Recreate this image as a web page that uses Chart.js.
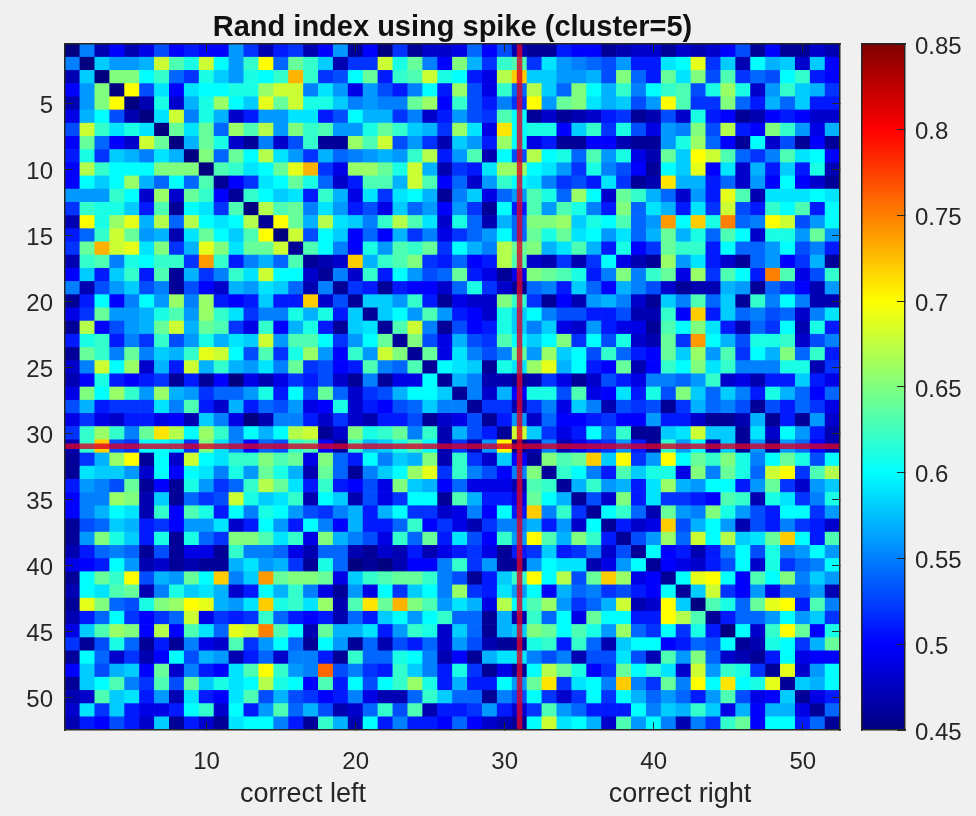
<!DOCTYPE html>
<html>
<head>
<meta charset="utf-8">
<title>Rand index using spike</title>
<script src="https://cdn.jsdelivr.net/npm/chart.js@4"></script>
<style>
	html, body { margin: 0; padding: 0; background: #f0f0f0; }
	#wrap { position: relative; width: 976px; height: 816px; overflow: hidden; font-family: "Liberation Sans", Arial, sans-serif; }
	#heat { position: absolute; left: 0; top: 0; }
	#cbar { position: absolute; left: 850px; top: 0; }
	.lab { position: absolute; top: 778px; font-size: 27px; line-height: 30px; color: #262626; white-space: nowrap; transform: translateX(-50%); }
</style>
</head>
<body>
<div id="wrap">
	<canvas id="heat" width="860" height="816"></canvas>
	<canvas id="cbar" width="126" height="816"></canvas>
	<div class="lab" style="left:303px">correct left</div>
	<div class="lab" style="left:680px">correct right</div>
</div>
<script>
// values, in hundredths, one array per row
var cells = [
[45,55,47,50,47,49,53,50,51,50,50,56,52,47,51,52,47,50, 56,46,50,45,52,46,48,48,49,54,50,53,47,46,46,51,50, 50,46,47,48,48,46,48,47,48,50,53,46,50,46,46,48,47],
[55,45,58,56,56,57,68,63,61,68,60,56,62,70,54,64,62,58, 47,52,52,68,61,64,55,50,65,57,52,62,63,52,59,56,55, 54,53,56,51,51,59,60,69,52,58,47,60,57,58,48,58,50],
[47,58,45,65,65,60,62,54,52,61,58,56,61,60,62,73,62,52, 53,60,64,51,62,63,68,61,60,51,49,67,72,58,58,56,56, 57,53,65,54,51,64,59,65,53,63,52,54,53,60,62,51,50],
[50,56,65,45,70,53,59,50,59,60,60,61,61,66,68,68,55,59, 56,49,56,53,51,55,60,51,66,53,49,62,54,67,58,54,65, 60,57,62,55,60,62,63,53,61,66,61,48,56,62,58,57,52],
[47,56,65,70,45,47,61,48,57,61,66,60,58,69,64,68,61,61, 58,55,56,55,55,64,66,50,62,53,51,55,52,70,56,64,65, 59,57,58,53,56,70,63,52,52,65,54,51,57,54,58,51,51],
[49,57,60,53,47,45,59,68,55,61,57,48,51,56,56,59,59,51, 53,60,57,57,52,55,48,51,56,53,52,63,60,46,48,46,47, 48,51,52,46,47,53,48,61,51,50,46,47,50,51,50,48,48],
[53,68,62,59,61,59,45,64,59,64,54,66,63,67,56,65,62,63, 56,56,61,64,62,58,57,52,66,59,49,71,60,61,61,50,58, 62,52,61,53,49,56,55,65,53,67,51,50,65,62,56,49,57],
[50,64,54,50,48,68,64,45,57,64,61,48,46,55,48,53,62,46, 46,66,63,68,53,56,52,47,58,56,51,66,60,49,51,46,46, 50,50,47,46,46,56,61,66,54,50,46,60,48,53,46,50,46],
[51,61,52,58,57,55,59,57,45,65,54,64,60,67,59,56,52,57, 54,55,56,57,56,62,67,51,56,63,47,60,53,67,60,61,54, 63,56,61,49,47,64,58,70,68,63,54,52,55,63,59,60,50],
[50,67,62,60,60,60,65,65,65,45,63,62,59,60,64,69,73,52, 49,66,66,64,61,68,57,47,52,51,59,66,66,60,59,56,52, 61,55,53,50,46,60,58,69,50,59,48,57,51,58,51,61,47],
[50,60,58,60,66,57,54,60,54,63,46,50,52,59,60,64,61,54, 48,51,63,63,57,68,63,50,54,48,56,62,60,59,55,52,53, 51,59,52,46,47,71,57,57,51,54,48,56,50,60,50,48,46],
[56,56,56,62,60,48,66,48,64,62,50,46,62,60,58,59,51,62, 57,49,59,52,59,60,57,46,55,58,49,54,56,63,61,54,66, 60,48,64,62,57,54,48,56,51,69,63,47,59,59,59,60,59],
[52,62,61,61,58,51,63,46,60,59,52,63,45,67,63,64,55,59, 56,51,53,49,58,54,56,50,56,52,46,60,51,63,56,63,61, 55,51,65,54,59,57,51,59,52,68,53,51,62,60,63,51,60],
[47,70,61,66,69,57,67,54,67,60,59,60,67,46,70,64,57,67, 59,58,55,62,67,63,59,48,61,54,47,57,54,65,65,66,58, 61,60,63,54,56,74,60,72,61,75,54,55,70,68,53,56,60],
[51,54,62,68,64,56,57,47,59,64,60,58,63,70,45,68,53,60, 58,50,54,50,57,52,55,49,52,54,56,60,54,64,61,64,59, 60,56,59,54,57,64,57,61,54,63,60,48,61,61,56,64,56],
[52,64,73,68,69,59,65,52,57,69,65,59,64,64,68,46,63,60, 55,50,61,56,63,62,64,52,60,57,55,67,64,65,57,59,63, 57,51,61,50,52,64,62,62,51,60,54,54,56,60,53,55,51],
[47,62,63,55,61,60,62,62,52,74,62,51,55,57,54,63,46,47, 48,72,57,62,63,65,52,51,54,50,51,67,63,48,47,52,47, 52,60,49,47,46,66,56,59,51,48,46,54,56,50,52,57,46],
[50,58,51,58,62,51,63,46,57,52,55,62,59,68,60,60,48,46, 55,48,62,51,60,56,53,54,64,51,49,46,49,65,64,63,61, 51,55,65,55,62,64,49,66,52,63,60,51,75,63,49,53,62],
[55,47,53,56,58,53,55,46,53,50,48,57,56,59,58,54,47,55, 46,52,51,46,51,50,50,48,54,61,52,48,46,54,55,51,58, 54,50,57,55,53,48,46,47,47,57,56,46,54,52,50,47,56],
[46,51,60,50,55,60,56,66,55,66,51,50,51,58,51,51,72,48, 53,46,58,58,56,62,51,46,49,48,48,65,62,52,46,50,47, 56,57,55,48,46,58,55,63,54,58,46,62,55,60,55,47,47],
[49,52,64,56,56,57,61,63,56,66,62,59,52,55,55,61,57,61, 51,58,46,58,60,56,63,56,51,50,48,61,58,60,55,53,53, 51,51,53,47,47,62,50,72,51,58,54,55,53,54,48,55,59],
[46,67,50,53,56,57,64,68,57,64,63,52,49,62,50,57,61,51, 46,58,59,46,63,68,55,46,53,50,51,61,58,55,58,49,48, 56,51,49,49,46,63,60,65,59,51,47,54,52,60,47,61,51],
[51,61,62,51,55,52,62,53,56,61,57,59,58,68,56,63,63,60, 52,56,60,64,46,65,53,49,57,53,52,63,60,58,60,65,52, 60,53,61,48,47,64,52,74,60,57,53,61,61,62,48,53,55],
[46,64,62,55,64,55,58,57,62,69,68,60,53,63,52,61,66,56, 50,62,56,68,65,46,64,49,59,55,53,55,64,56,66,58,60, 53,62,54,51,50,64,58,66,56,63,52,60,57,65,54,62,51],
[48,55,68,60,66,48,57,51,68,57,62,57,56,59,55,64,52,53, 50,51,63,55,54,63,46,60,59,58,46,61,59,66,69,57,60, 51,50,64,47,50,62,60,65,59,62,55,55,55,61,61,47,52],
[47,50,61,51,50,51,52,46,51,46,50,45,49,47,49,52,51,53, 48,46,55,46,49,49,60,46,57,55,47,47,46,47,52,49,46, 48,53,51,49,55,55,54,56,62,48,49,47,51,51,58,51,49],
[49,65,60,66,62,56,66,57,56,52,54,54,56,61,51,60,53,64, 54,48,52,53,57,60,60,58,46,55,48,57,50,61,61,53,63, 49,50,59,51,61,53,65,58,54,58,55,51,61,57,54,50,54],
[53,57,51,52,52,52,59,55,63,51,48,57,51,54,53,56,49,50, 61,48,51,50,53,54,58,55,55,46,52,52,47,52,55,49,58, 55,47,53,52,53,46,52,57,54,55,53,46,53,51,54,52,49],
[49,52,49,48,51,51,49,50,47,58,55,49,45,47,55,55,51,48, 52,48,47,51,51,53,46,48,49,53,46,51,56,48,54,50,50, 51,52,50,50,56,51,51,48,46,46,47,57,46,51,46,56,48],
[52,62,66,62,55,64,71,67,60,66,62,55,60,57,60,67,68,46, 48,65,61,62,64,55,62,47,57,53,51,46,68,58,52,49,51, 60,54,62,46,46,58,59,68,58,58,46,59,48,60,56,51,47],
[47,62,72,53,52,60,60,59,52,65,59,55,50,54,53,62,63,50, 46,62,57,58,61,63,60,47,52,47,56,70,45,47,55,47,49, 51,52,56,51,46,62,56,60,47,58,46,56,46,56,54,50,47],
[46,52,57,66,70,46,60,48,68,60,59,62,62,65,63,64,49,65, 54,51,60,55,58,57,65,47,62,52,48,58,50,46,65,63,64, 72,58,70,52,56,70,60,64,62,65,61,55,60,64,61,53,60],
[46,59,58,58,56,48,60,50,60,59,55,61,56,64,61,57,47,64, 54,46,55,58,60,66,69,52,62,55,53,50,55,65,46,62,60, 55,51,63,58,61,61,49,65,55,64,61,54,68,70,52,63,67],
[51,56,55,53,64,46,50,46,61,56,52,54,62,67,64,59,51,62, 51,50,53,49,65,58,57,50,54,49,49,49,47,63,62,46,57, 62,56,57,51,59,66,57,56,60,60,51,56,64,52,48,56,58],
[50,55,55,66,65,47,58,46,54,52,53,68,61,58,59,62,47,60, 58,47,53,49,52,60,60,46,63,57,51,51,49,64,60,57,46, 53,48,65,51,59,52,52,51,50,63,62,47,61,59,52,55,61],
[50,55,57,60,59,47,62,50,63,61,51,60,55,61,60,56,53,52, 55,57,51,57,60,52,52,48,49,55,50,60,51,72,55,62,52, 46,60,62,54,47,64,56,55,65,61,56,53,51,60,60,52,56],
[46,53,54,58,57,51,52,50,56,56,59,48,51,60,56,51,60,55, 50,57,51,51,54,62,50,52,49,47,52,55,55,57,51,56,48, 60,46,51,48,49,72,53,57,60,56,47,53,51,55,52,51,48],
[46,56,65,61,58,51,61,46,61,54,52,65,65,63,59,62,49,65, 57,55,53,49,62,54,64,51,59,53,50,62,56,70,63,57,65, 62,51,46,53,56,66,54,68,60,67,58,59,64,72,60,51,63],
[47,51,54,55,54,46,53,46,49,49,46,62,55,55,54,49,47,54, 54,47,46,48,47,51,47,49,51,52,49,46,51,52,58,51,52, 55,48,53,46,60,50,51,47,51,55,60,53,61,55,56,60,56],
[49,50,51,60,56,47,48,46,47,46,46,57,59,56,57,52,46,61, 54,45,46,45,47,50,50,55,62,52,56,46,46,56,60,59,59, 47,49,56,60,46,50,49,48,51,53,60,48,61,52,54,55,60],
[46,60,64,62,70,53,57,56,64,60,72,55,58,74,64,65,65,64, 49,58,62,63,64,64,62,55,53,46,51,58,62,70,60,67,53, 64,72,66,49,50,46,60,69,70,60,50,63,60,65,55,58,56],
[47,60,59,63,64,47,55,61,58,59,57,48,51,60,57,62,55,49, 46,56,49,60,52,58,60,55,66,52,51,59,56,60,50,57,54, 55,52,53,51,50,60,46,58,68,52,50,56,49,54,54,56,47],
[46,69,65,54,53,61,65,66,70,69,57,56,59,72,61,62,59,66, 47,63,71,64,73,65,63,56,59,57,49,67,60,63,66,56,52, 54,57,68,47,48,70,58,45,63,61,54,64,69,70,51,63,55],
[47,51,54,60,52,50,52,54,68,49,52,51,52,62,54,51,50,51, 47,54,51,58,60,56,60,62,54,54,46,57,47,62,54,60,49, 64,60,60,51,51,70,67,63,46,51,54,54,56,60,56,58,52],
[49,58,63,66,65,50,67,50,63,59,54,69,68,75,63,60,47,64, 57,57,59,51,56,62,61,48,58,54,46,57,58,65,64,60,63, 61,56,66,54,52,60,52,61,51,45,60,48,62,70,64,50,61],
[52,46,53,61,54,46,51,46,55,49,48,63,52,56,60,54,46,60, 56,46,54,47,53,51,54,48,56,53,47,46,46,61,62,51,62, 54,47,58,60,60,50,51,54,53,60,46,47,61,60,52,57,64],
[46,60,54,48,52,47,50,60,53,57,56,47,51,54,48,55,55,51, 46,62,54,54,61,60,55,47,50,46,57,59,59,55,53,55,47, 53,53,59,53,47,63,56,65,54,48,47,46,51,60,49,50,50],
[50,58,53,57,58,50,64,48,55,51,50,59,63,70,62,56,55,76, 53,55,52,51,62,58,55,51,61,52,46,49,46,60,67,64,61, 50,52,64,60,62,59,48,68,56,62,61,52,46,69,48,56,60],
[46,58,60,63,55,52,63,53,64,58,61,59,60,67,61,60,50,63, 51,60,53,60,62,66,61,51,57,51,51,60,56,64,71,52,59, 60,55,72,55,52,64,55,70,60,71,60,61,69,46,58,57,60],
[47,48,63,58,59,51,56,47,59,51,50,59,63,53,57,53,52,50, 51,55,49,47,47,54,62,58,54,54,46,55,53,60,52,48,52, 60,52,60,57,54,56,54,51,56,63,53,49,50,58,46,49,51],
[48,59,52,58,51,49,49,51,60,62,48,60,51,56,63,54,57,53, 47,48,54,62,53,63,47,51,51,52,56,51,48,52,63,56,54, 51,51,51,60,55,58,57,62,58,49,57,50,57,57,49,46,54],
[47,51,50,53,51,48,58,46,51,48,46,59,60,60,55,51,46,62, 57,47,60,51,55,51,51,50,54,50,48,47,46,60,68,59,60, 57,48,63,56,60,55,47,55,52,62,64,50,60,60,51,54,46]
];
var xTicks = [10, 20, 30, 40, 50];
var yTicks = [5, 10, 15, 20, 25, 30, 35, 40, 45, 50];
var cbarTicks = [0.45, 0.5, 0.55, 0.6, 0.65, 0.7, 0.75, 0.8, 0.85];
var cbarRange = [0.45, 0.85];
var markedTrial = 31;

var textColor = '#262626';
var tickFont = { family: '"Liberation Sans", Arial, sans-serif', size: 24 };

// jet colormap, position 0..1 -> [r,g,b]
var jetStops = [[0, 0, 0, 128], [0.125, 0, 0, 255], [0.375, 0, 255, 255], [0.625, 255, 255, 0], [0.875, 255, 0, 0], [1, 128, 0, 0]];

function jet(t){
	t = Math.max(0, Math.min(1, t));
	for(var i = 1; i < jetStops.length; i++){
		if(t <= jetStops[i][0]){
			var a = jetStops[i-1], b = jetStops[i];
			var f = (t - a[0]) / (b[0] - a[0]);
			return 'rgb(' + Math.round(a[1] + f*(b[1]-a[1])) + ',' + Math.round(a[2] + f*(b[2]-a[2])) + ',' + Math.round(a[3] + f*(b[3]-a[3])) + ')';
		}
	}
}

function setTicks(list){
	return function(axis){
		axis.ticks = list.map(function(v){ return { value: v }; });
	};
}

function frameAxis(extra){
	var o = {
		offset: false,
		border: { color: textColor, width: 1.5, z: 2 },
		grid: { display: true, offset: false, drawOnChartArea: false, drawTicks: true, tickLength: -8, color: textColor, lineWidth: 1, z: 2 }
	};
	for(var k in extra) o[k] = extra[k];
	return o;
}

var heatData = [], heatColors = [];
cells.forEach(function(row, r){
	row.forEach(function(v, c){
		heatData.push({ x: c + 1, y: [r + 0.5, r + 1.5] });
		heatColors.push(jet((v / 100 - cbarRange[0]) / (cbarRange[1] - cbarRange[0])));
	});
});

new Chart(document.getElementById('heat'), {
	type: 'bar',
	data: {
		datasets: [
			{
				type: 'line', order: 0,
				data: [{ x: 0.5, y: markedTrial }, { x: 52.5, y: markedTrial }],
				borderColor: 'rgba(220,0,40,0.8)', borderWidth: 5.5, pointRadius: 0
			},
			{
				type: 'line', order: 0,
				data: [{ x: markedTrial, y: 0.5 }, { x: markedTrial, y: 52.5 }],
				borderColor: 'rgba(220,0,40,0.8)', borderWidth: 5.5, pointRadius: 0
			},
			{
				order: 1,
				data: heatData,
				backgroundColor: heatColors,
				borderWidth: 0,
				barPercentage: 1,
				categoryPercentage: 1
			}
		]
	},
	options: {
		responsive: false,
		animation: false,
		events: [],
		layout: { padding: { right: 20 } },
		plugins: {
			legend: { display: false },
			tooltip: { enabled: false },
			title: {
				display: true,
				fullSize: false,
				text: 'Rand index using spike (cluster=5)',
				color: '#111',
				font: { family: tickFont.family, size: 29, weight: 'bold', lineHeight: 1 },
				padding: { top: 13, bottom: 2 }
			}
		},
		scales: {
			x: frameAxis({
				type: 'linear', position: 'bottom', min: 0.5, max: 52.5,
				afterBuildTicks: setTicks(xTicks),
				afterFit: function(s){ s.height = 86; },
				ticks: { color: textColor, font: tickFont, padding: 26, maxRotation: 0, autoSkip: false, callback: function(v){ return String(v); } }
			}),
			xTop: frameAxis({
				type: 'linear', position: 'top', min: 0.5, max: 52.5,
				afterBuildTicks: setTicks(xTicks),
				afterFit: function(s){ s.height = 0; },
				ticks: { display: false }
			}),
			y: frameAxis({
				type: 'linear', position: 'left', reverse: true, min: 0.5, max: 52.5,
				afterBuildTicks: setTicks(yTicks),
				afterFit: function(s){ s.width = 65; },
				ticks: { color: textColor, font: tickFont, padding: 20, labelOffset: 3, autoSkip: false, callback: function(v){ return String(v); } }
			}),
			yRight: frameAxis({
				type: 'linear', position: 'right', reverse: true, min: 0.5, max: 52.5,
				afterBuildTicks: setTicks(yTicks),
				afterFit: function(s){ s.width = 0; },
				ticks: { display: false }
			})
		}
	}
});

function cbarGradient(context){
	var area = context.chart.chartArea;
	if(!area) return '#000080';
	var g = context.chart.ctx.createLinearGradient(0, area.bottom, 0, area.top);
	jetStops.forEach(function(s){
		g.addColorStop(s[0], 'rgb(' + s[1] + ',' + s[2] + ',' + s[3] + ')');
	});
	return g;
}

new Chart(document.getElementById('cbar'), {
	type: 'bar',
	data: {
		labels: [''],
		datasets: [{
			data: [cbarRange],
			backgroundColor: cbarGradient,
			borderWidth: 0,
			barPercentage: 1,
			categoryPercentage: 1
		}]
	},
	options: {
		responsive: false,
		animation: false,
		events: [],
		layout: { padding: { left: 12, top: 44, bottom: 86 } },
		plugins: { legend: { display: false }, tooltip: { enabled: false } },
		scales: {
			x: frameAxis({
				type: 'category', offset: true, position: 'bottom',
				grid: { display: false },
				afterFit: function(s){ s.height = 0; },
				ticks: { display: false }
			}),
			xTop: frameAxis({
				type: 'category', offset: true, position: 'top',
				grid: { display: false },
				afterFit: function(s){ s.height = 0; },
				ticks: { display: false }
			}),
			yLeft: frameAxis({
				type: 'linear', position: 'left', min: cbarRange[0], max: cbarRange[1],
				grid: { display: false },
				afterFit: function(s){ s.width = 0; },
				ticks: { display: false }
			}),
			y: frameAxis({
				type: 'linear', position: 'right', min: cbarRange[0], max: cbarRange[1],
				afterBuildTicks: setTicks(cbarTicks),
				afterFit: function(s){ s.width = 71; },
				ticks: { color: textColor, font: tickFont, padding: 18, labelOffset: 3, autoSkip: false, callback: function(v){ return String(v); } }
			})
		}
	}
});
</script>
</body>
</html>
